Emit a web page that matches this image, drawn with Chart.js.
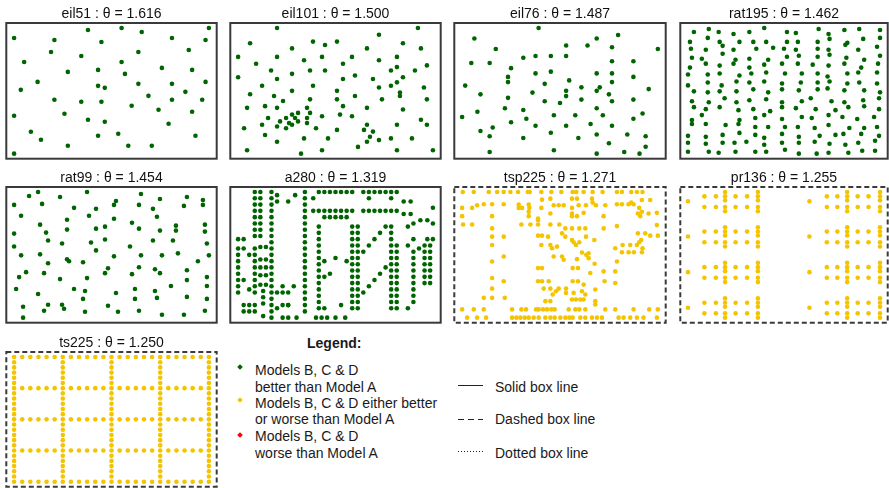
<!DOCTYPE html>
<html>
<head>
<meta charset="utf-8">
<script src="https://cdn.jsdelivr.net/npm/chart.js@4.4.1/dist/chart.umd.min.js"></script>
<style>
  html, body { margin: 0; padding: 0; background: #fff; }
  body { position: relative; width: 889px; height: 488px; overflow: hidden;
         font-family: "Liberation Sans", Arial, sans-serif; color: #1a1a1a; }
  canvas.panel { position: absolute; }
  .key { position: absolute; font-size: 14px; line-height: 16px; white-space: nowrap; }
  .key.head { font-weight: bold; }
  .dia { position: absolute; width: 4px; height: 4px; transform: rotate(45deg); }
  svg.lines { position: absolute; left: 0; top: 0; }
</style>
</head>
<body>

<div class="key head" style="left:307px;top:335px">Legend:</div>
<span class="dia" style="left:238px;top:365px;background:#006400"></span>
<span class="dia" style="left:238px;top:398px;background:#f5c400"></span>
<span class="dia" style="left:238px;top:433px;background:#ff0000"></span>
<div class="key" style="left:255px;top:362px">Models B, C &amp; D</div>
<div class="key" style="left:255px;top:379px">better than Model A</div>
<div class="key" style="left:255px;top:395px">Models B, C &amp; D either better</div>
<div class="key" style="left:255px;top:411px">or worse than Model A</div>
<div class="key" style="left:255px;top:428px">Models B, C &amp; D</div>
<div class="key" style="left:255px;top:445px">worse than Model A</div>
<svg class="lines" width="889" height="488">
  <line x1="458" y1="385.5" x2="483" y2="385.5" stroke="#222" stroke-width="1"/>
  <line x1="458" y1="419.5" x2="483" y2="419.5" stroke="#222" stroke-width="1" stroke-dasharray="6,4"/>
  <line x1="458" y1="451.5" x2="483" y2="451.5" stroke="#222" stroke-width="1" stroke-dasharray="1,2"/>
</svg>
<div class="key" style="left:495px;top:379px">Solid box line</div>
<div class="key" style="left:495px;top:411px">Dashed box line</div>
<div class="key" style="left:495px;top:445px">Dotted box line</div>

<script>
// City coordinates of each instance, as [x, y] pairs.
const eil51 = [[37,52],[49,49],[52,64],[20,26],[40,30],[21,47],[17,63],[31,62],[52,33],[51,21],[42,41],[31,32],[5,25],[12,42],[36,16],[52,41],[27,23],[17,33],[13,13],[57,58],[62,42],[42,57],[16,57],[8,52],[7,38],[27,68],[30,48],[43,67],[58,48],[58,27],[37,69],[38,46],[46,10],[61,33],[62,63],[63,69],[32,22],[45,35],[59,15],[5,6],[10,17],[21,10],[5,64],[30,15],[39,10],[32,39],[25,32],[25,55],[48,28],[56,37],[30,40]];

const eil101 = [[41,49],[35,17],[55,45],[55,20],[15,30],[25,30],[20,50],[10,43],[55,60],[30,60],[20,65],[50,35],[30,25],[15,10],[30,5],[10,20],[5,30],[20,40],[15,60],[45,65],[45,20],[45,10],[55,5],[65,35],[65,20],[45,30],[35,40],[41,37],[64,42],[40,60],[31,52],[35,69],[53,52],[65,55],[63,65],[2,60],[20,20],[5,5],[60,12],[40,25],[42,7],[24,12],[23,3],[11,14],[6,38],[2,48],[8,56],[13,52],[6,68],[47,47],[49,58],[27,43],[37,31],[57,29],[63,23],[53,12],[32,12],[36,26],[21,24],[17,34],[12,24],[24,58],[27,69],[15,77],[62,77],[49,73],[67,5],[56,39],[37,47],[37,56],[57,68],[47,16],[44,17],[46,13],[49,11],[49,42],[53,43],[61,52],[57,48],[56,37],[55,54],[15,47],[14,37],[11,31],[16,22],[4,18],[28,18],[26,52],[26,35],[31,67],[15,19],[22,22],[18,24],[26,27],[25,24],[22,27],[25,21],[19,21],[20,26],[18,18],[35,35]];

const eil76 = [[22,22],[36,26],[21,45],[45,35],[55,20],[33,34],[50,50],[55,45],[26,59],[40,66],[55,65],[35,51],[62,35],[62,57],[62,24],[21,36],[33,44],[9,56],[62,48],[66,14],[44,13],[26,13],[11,28],[7,43],[17,64],[41,46],[55,34],[35,16],[52,26],[43,26],[31,76],[22,53],[26,29],[50,40],[55,50],[54,10],[60,15],[47,66],[30,60],[30,50],[12,17],[15,14],[16,19],[21,48],[50,30],[51,42],[50,15],[48,21],[12,38],[15,56],[29,39],[54,38],[55,57],[67,41],[10,70],[6,25],[65,27],[40,60],[70,64],[64,4],[36,6],[30,20],[20,30],[15,5],[50,70],[57,72],[45,42],[38,33],[50,4],[66,8],[59,5],[35,60],[27,24],[40,20],[40,37],[40,40]];

const rat195 = [[13,129],[28,132],[38,129],[53,127],[69,129],[84,133],
  [9,119],[27,123],[39,119],[42,115],[59,119],[73,119],[86,119],
  [10,112],[25,111],[53,111],[76,112],[93,113],
  [11,103],[21,102],[42,107],[55,101],[69,102],[88,101],
  [9,93],[25,97],[39,95],[53,97],[69,93],[84,96],
  [7,86],[27,86],[39,87],[59,85],[71,87],[86,88],
  [7,75],[27,78],[41,75],[56,79],[69,78],[84,79],
  [13,69],[27,68],[39,69],[56,69],[73,71],[88,68],
  [11,59],[28,58],[44,62],[56,58],[69,60],[86,61],
  [13,53],[25,51],[39,53],[58,50],[73,51],[90,49],
  [21,45],[11,40],[11,36],[25,36],[45,35],[59,40],[58,36],[75,42],[84,45],
  [75,33],[88,33],
  [7,24],[25,23],[42,25],[59,27],[75,25],[84,22],
  [7,17],[25,16],[42,17],[54,17],[66,18],[84,15],
  [7,8],[28,8],[38,7],[55,8],[75,8],[86,8],
  [107,129],[116,128],[139,132],[149,127],[150,122],[165,131],[180,132],[201,131],
  [107,119],[118,119],[138,119],[166,116],[168,118],[184,122],[201,123],
  [104,112],[116,111],[138,112],[149,111],[150,106],[179,111],[198,114],
  [107,104],[119,105],[138,104],[167,103],[185,101],[201,105],
  [102,97],[118,97],[133,96],[149,95],[165,97],[182,93],[199,97],
  [105,87],[122,87],[138,87],[148,84],[150,79],[168,87],[179,88],[198,88],
  [102,77],[121,78],[138,78],[168,77],[180,78],[198,77],
  [102,71],[119,70],[138,71],[148,72],[165,70],[185,70],[201,68],
  [131,62],[122,59],[152,59],[165,58],[184,60],[200,62],
  [102,58],[102,53],[116,52],[136,51],[156,50],[169,53],[185,54],[200,51],
  [122,43],[132,42],[149,45],[163,43],[178,41],[195,43],
  [102,41],[105,33],[118,33],[135,32],[149,35],[170,32],[185,32],[198,33],
  [102,26],[119,23],[140,24],[156,25],[164,26],[182,26],[200,24],
  [102,17],[119,17],[135,18],[150,16],[166,15],[179,17],[196,19],
  [105,10],[119,6],[137,6],[149,7],[169,7],[183,9],[196,9]];

const rat99 = [[22,127],[31,131],[53,126],[80,131],[134,129],[153,124],[180,126],[196,123],
  [7,118],[35,119],[67,115],[89,114],[107,118],[109,122],[132,118],[146,114],[177,117],[196,118],
  [14,107],[60,103],[82,107],[107,104],[150,106],
  [33,98],[89,94],[98,96],[125,100],[132,94],[153,92],[169,97],[169,92],[198,98],[198,91],
  [7,89],[39,90],[60,93],
  [41,82],[55,79],[84,80],[98,83],[146,82],[166,82],[200,79],
  [7,76],[89,72],[123,76],
  [14,67],[33,68],[60,63],[62,61],[107,66],[134,67],[155,67],[171,69],[202,67],
  [41,59],[76,60],[191,61],
  [19,50],[12,45],[37,49],[101,54],[98,49],[125,48],[132,55],[148,53],[153,49],[180,52],[200,45],
  [53,43],[80,44],[180,42],
  [9,33],[31,28],[67,33],[78,31],[109,29],[128,33],[148,31],[164,36],[200,36],
  [76,23],[128,23],[150,24],[180,25],[200,23],
  [16,15],[41,17],[55,17],[57,13],[37,11],[101,16],[78,10],[111,10],[132,11],[155,7],[177,7],[198,11],
  [16,4]];

const a280 = [[288,149],[288,129],[270,133],[256,141],[256,157],[246,157],[236,169],[228,169],[228,161],[220,169],[212,169],[204,169],[196,169],[188,169],[196,161],[188,145],[172,145],[164,145],[156,145],[148,145],[140,145],[148,169],[164,169],[172,169],[156,169],[140,169],[132,169],[124,169],[116,161],[104,153],[104,161],[104,169],[90,165],[80,157],[64,157],[64,165],[56,169],[56,161],[56,153],[56,145],[56,137],[56,129],[56,121],[40,121],[40,129],[40,137],[40,145],[40,153],[40,161],[40,169],[32,169],[32,161],[32,153],[32,145],[32,137],[32,129],[32,121],[32,113],[40,113],[56,113],[56,105],[48,99],[40,99],[32,97],[32,89],[24,89],[16,97],[16,109],[8,109],[8,97],[8,89],[8,81],[8,73],[8,65],[8,57],[16,57],[8,49],[8,41],[24,45],[32,41],[32,49],[32,57],[32,65],[32,73],[32,81],[40,83],[40,73],[40,63],[40,51],[44,43],[44,35],[44,27],[32,25],[24,25],[16,25],[16,17],[24,17],[32,17],[44,11],[56,9],[56,17],[56,25],[56,33],[56,41],[64,41],[72,41],[72,49],[56,49],[48,51],[56,57],[56,65],[48,63],[48,73],[56,73],[56,81],[48,83],[56,89],[56,97],[104,97],[104,105],[104,113],[104,121],[104,129],[104,137],[104,145],[116,145],[124,145],[132,145],[132,137],[140,137],[148,137],[156,137],[164,137],[172,125],[172,117],[172,109],[172,101],[172,93],[172,85],[180,85],[180,77],[180,69],[180,61],[180,53],[172,53],[172,61],[172,69],[172,77],[164,81],[148,85],[124,85],[124,93],[124,109],[124,125],[124,117],[124,101],[104,89],[104,81],[104,73],[104,65],[104,49],[104,41],[104,33],[104,25],[104,17],[92,9],[80,9],[72,9],[64,21],[72,25],[80,25],[80,25],[80,41],[88,49],[104,57],[124,69],[124,77],[132,81],[140,65],[132,61],[124,61],[124,53],[124,45],[124,37],[124,29],[132,21],[124,21],[120,9],[128,9],[136,9],[148,9],[162,9],[156,25],[172,21],[180,21],[180,29],[172,29],[172,37],[172,45],[180,45],[180,37],[188,41],[196,49],[204,57],[212,65],[220,73],[228,69],[228,77],[236,77],[236,69],[236,61],[228,61],[228,53],[236,53],[236,45],[228,45],[228,37],[236,37],[236,29],[228,29],[228,21],[236,21],[252,21],[260,29],[260,37],[260,45],[260,53],[260,61],[260,69],[260,77],[276,77],[276,69],[276,61],[276,53],[284,53],[284,61],[284,69],[284,77],[284,85],[284,93],[284,101],[288,109],[280,109],[276,101],[276,93],[276,85],[268,97],[260,109],[252,101],[260,93],[260,85],[236,85],[228,85],[228,93],[236,93],[236,101],[228,101],[228,109],[228,117],[228,125],[220,125],[212,117],[204,109],[196,101],[188,93],[180,93],[180,101],[180,109],[180,117],[180,125],[196,145],[204,145],[212,145],[220,145],[228,145],[236,145],[246,141],[252,125],[260,129],[280,133]];

const tsp225 = [[42,400],[75,400],[120,400],[145,400],[165,400],[185,400],[208,400],[237,400],[243,400],[278,400],[308,400],[338,400],[372,400],[383,400],[405,400],[432,400],[462,400],[505,400],[520,400],[548,400],[565,400],[582,400],
  [370,380],[385,380],[430,380],[305,380],[280,377],[548,368],[580,376],[605,376],
  [40,352],[70,352],[85,360],[105,363],[130,363],[165,363],[210,362],[210,352],[220,352],[240,362],[242,352],[278,352],[315,360],[330,360],[345,360],[370,352],[390,360],[412,360],[432,368],[442,360],[470,360],[505,363],[520,363],[540,363],[555,363],[572,352],[580,340],[600,335],[625,337],
  [40,327],[130,327],[240,340],[240,327],[268,320],[305,335],[370,335],[370,327],[385,327],[405,337],[465,327],[568,335],[575,327],
  [43,302],[70,302],[130,290],[218,302],[245,302],[268,302],[268,315],[305,302],[332,302],[350,290],[370,290],[392,290],[410,290],[465,290],[505,297],[625,300],
  [130,265],[165,265],[268,268],[280,268],[298,265],[340,275],[350,265],[370,255],[382,240],[375,248],[392,248],[412,265],[437,255],[590,275],[605,268],[628,268],[568,275],[578,255],[572,248],
  [130,240],[278,240],[305,240],[310,230],[325,235],[400,217],[413,210],[420,215],[500,230],[522,240],[545,240],[565,240],[582,230],[520,218],[540,218],[556,218],[580,218],
  [165,205],[315,205],[340,205],[345,195],[385,197],[420,200],[438,183],[505,190],
  [130,190],[268,170],[280,170],[372,170],[388,170],[425,155],[465,160],[500,160],
  [130,140],[165,130],[268,130],[280,130],[300,130],[372,130],[388,130],[405,120],[468,130],[500,125],
  [130,108],[285,108],[305,108],[330,108],[322,100],[352,108],[352,95],[375,95],[400,100],[410,90],[440,105],
  [105,80],[130,80],[168,80],[290,70],[305,70],[312,90],[370,75],[382,75],[395,75],[405,75],[440,70],
  [40,45],[75,45],[105,45],[190,45],[218,45],[232,45],[262,45],[270,45],[283,45],[295,45],[308,45],[318,45],[360,45],[380,45],[392,45],[410,45],[440,60],[470,45],[500,45],[555,45],[602,45],[628,45],
  [55,20],[85,20],[112,20],[190,20],[203,20],[215,20],[228,20],[240,20],[255,20],[270,20],[290,20],[305,20],[318,20],[335,20],[350,20],[362,20],[372,20],[395,20],[410,20],[430,20],[445,20],[460,20],[510,20],[525,20],[545,20],[565,20],[585,20],[625,20]];

const pr136 = [
  [55,370],[105,385],[140,385],[168,385],[200,385],[235,385],[268,385],[105,353],[140,353],[168,353],[200,353],[235,353],[268,353],[168,398],[168,373],[168,340],[268,398],[268,373],[268,340],
  [425,370],[478,385],[510,385],[540,385],[572,385],[605,385],[640,385],[478,353],[510,353],[540,353],[572,353],[605,353],[640,353],[540,398],[540,373],[540,340],[640,398],[640,373],[640,340],
  [55,264],[105,279],[140,279],[168,279],[200,279],[235,279],[268,279],[105,247],[140,247],[168,247],[200,247],[235,247],[268,247],[168,292],[168,267],[168,234],[268,292],[268,267],[268,234],
  [425,264],[478,279],[510,279],[540,279],[572,279],[605,279],[640,279],[478,247],[510,247],[540,247],[572,247],[605,247],[640,247],[540,292],[540,267],[540,234],[640,292],[640,267],[640,234],
  [55,157],[105,172],[140,172],[168,172],[200,172],[235,172],[268,172],[105,140],[140,140],[168,140],[200,140],[235,140],[268,140],[168,185],[168,160],[168,127],[268,185],[268,160],[268,127],
  [425,157],[478,172],[510,172],[540,172],[572,172],[605,172],[640,172],[478,140],[510,140],[540,140],[572,140],[605,140],[640,140],[540,185],[540,160],[540,127],[640,185],[640,160],[640,127],
  [55,50],[105,65],[140,65],[168,65],[200,65],[235,65],[268,65],[105,33],[140,33],[168,33],[200,33],[235,33],[268,33],[168,78],[168,53],[168,20],[268,78],[268,53],[268,20],
  [425,50],[478,65],[510,65],[540,65],[572,65],[605,65],[640,65],[478,33],[510,33],[540,33],[572,33],[605,33],[640,33],[540,78],[540,53],[540,20],[640,78],[640,53],[640,20]];

const ts225 = [
  [0,0],[1,0],[2,0],[3,0],[4,0],[5,0],[6,0],[7,0],[8,0],[9,0],[10,0],[11,0],[12,0],[13,0],[14,0],[15,0],[16,0],[17,0],[18,0],[19,0],[20,0],[21,0],[22,0],[23,0],[24,0],
  [0,6],[1,6],[2,6],[3,6],[4,6],[5,6],[6,6],[7,6],[8,6],[9,6],[10,6],[11,6],[12,6],[13,6],[14,6],[15,6],[16,6],[17,6],[18,6],[19,6],[20,6],[21,6],[22,6],[23,6],[24,6],
  [0,12],[1,12],[2,12],[3,12],[4,12],[5,12],[6,12],[7,12],[8,12],[9,12],[10,12],[11,12],[12,12],[13,12],[14,12],[15,12],[16,12],[17,12],[18,12],[19,12],[20,12],[21,12],[22,12],[23,12],[24,12],
  [0,18],[1,18],[2,18],[3,18],[4,18],[5,18],[6,18],[7,18],[8,18],[9,18],[10,18],[11,18],[12,18],[13,18],[14,18],[15,18],[16,18],[17,18],[18,18],[19,18],[20,18],[21,18],[22,18],[23,18],[24,18],
  [0,24],[1,24],[2,24],[3,24],[4,24],[5,24],[6,24],[7,24],[8,24],[9,24],[10,24],[11,24],[12,24],[13,24],[14,24],[15,24],[16,24],[17,24],[18,24],[19,24],[20,24],[21,24],[22,24],[23,24],[24,24],
  [0,1],[0,2],[0,3],[0,4],[0,5],[0,7],[0,8],[0,9],[0,10],[0,11],[0,13],[0,14],[0,15],[0,16],[0,17],[0,19],[0,20],[0,21],[0,22],[0,23],
  [6,1],[6,2],[6,3],[6,4],[6,5],[6,7],[6,8],[6,9],[6,10],[6,11],[6,13],[6,14],[6,15],[6,16],[6,17],[6,19],[6,20],[6,21],[6,22],[6,23],
  [12,1],[12,2],[12,3],[12,4],[12,5],[12,7],[12,8],[12,9],[12,10],[12,11],[12,13],[12,14],[12,15],[12,16],[12,17],[12,19],[12,20],[12,21],[12,22],[12,23],
  [18,1],[18,2],[18,3],[18,4],[18,5],[18,7],[18,8],[18,9],[18,10],[18,11],[18,13],[18,14],[18,15],[18,16],[18,17],[18,19],[18,20],[18,21],[18,22],[18,23],
  [24,1],[24,2],[24,3],[24,4],[24,5],[24,7],[24,8],[24,9],[24,10],[24,11],[24,13],[24,14],[24,15],[24,16],[24,17],[24,19],[24,20],[24,21],[24,22],[24,23]];

// Panel order, ratio values and outcome class of each instance.
const instanceNames = ['eil51', 'eil101', 'eil76', 'rat195', 'rat99', 'a280', 'tsp225', 'pr136', 'ts225'];
const instancePoints = [eil51, eil101, eil76, rat195, rat99, a280, tsp225, pr136, ts225];
const thetaValues = [1.616, 1.500, 1.487, 1.462, 1.454, 1.319, 1.271, 1.255, 1.250];
const outcomes = ['better', 'better', 'better', 'better', 'better', 'better', 'mixed', 'mixed', 'mixed'];

const FONT = '"Liberation Sans", Arial, sans-serif';
const pointColour = { better: '#006400', mixed: '#f5c400', worse: '#ff0000' };
const frameDash = { better: [], mixed: [5, 3], worse: [1, 2] };

// Grid of small multiples: 4 columns, 3 rows.
const colLeft = [6, 230, 454, 680];
const colWidth = [211, 211, 212, 208];
const rowTop = [23, 187, 352];
const rowHeight = [136, 136, 135];
const TITLE_H = 17;

// R-style axis range: data extent plus 4% on both sides.
function paddedRange(values) {
  const lo = Math.min(...values), hi = Math.max(...values);
  const pad = (hi - lo) * 0.04;
  return { min: lo - pad, max: hi + pad };
}

// Box around the plotting region.
const framePlugin = {
  id: 'frame',
  afterDraw(chart, args, opts) {
    const { ctx, chartArea: a } = chart;
    ctx.save();
    ctx.strokeStyle = opts.color;
    ctx.lineWidth = opts.width;
    ctx.setLineDash(opts.dash);
    ctx.strokeRect(a.left, a.top, a.right - a.left, a.bottom - a.top);
    ctx.restore();
  }
};

instanceNames.forEach((name, i) => {
  const col = i % 4, row = Math.floor(i / 4);
  const w = colWidth[col], h = rowHeight[row];
  const canvas = document.createElement('canvas');
  canvas.className = 'panel';
  canvas.width = w + 4;
  canvas.height = TITLE_H + h + 2;
  canvas.style.left = (colLeft[col] - 2) + 'px';
  canvas.style.top = (rowTop[row] - TITLE_H) + 'px';
  document.body.appendChild(canvas);

  const pts = instancePoints[i];
  const xr = paddedRange(pts.map(p => p[0]));
  const yr = paddedRange(pts.map(p => p[1]));
  const colour = pointColour[outcomes[i]];

  new Chart(canvas, {
    type: 'scatter',
    data: {
      datasets: [{
        data: pts.map(([x, y]) => ({ x, y })),
        backgroundColor: colour,
        borderColor: colour,
        borderWidth: 0,
        pointRadius: 2.3,
        pointHoverRadius: 2.3
      }]
    },
    options: {
      responsive: false,
      animation: false,
      devicePixelRatio: 1,
      events: [],
      layout: { padding: { left: 2, right: 2, top: 0, bottom: 2 } },
      scales: {
        x: { type: 'linear', display: false, min: xr.min, max: xr.max },
        y: { type: 'linear', display: false, min: yr.min, max: yr.max }
      },
      plugins: {
        legend: { display: false },
        tooltip: { enabled: false },
        title: {
          display: true,
          text: name + ' : \u03b8 = ' + thetaValues[i].toFixed(3),
          color: '#111',
          font: { family: FONT, size: 14, weight: 'normal' },
          padding: { top: 0, bottom: 0.2 }
        },
        frame: { color: '#3a3a3a', width: 2, dash: frameDash[outcomes[i]] }
      }
    },
    plugins: [framePlugin]
  });
});
</script>
</body>
</html>
